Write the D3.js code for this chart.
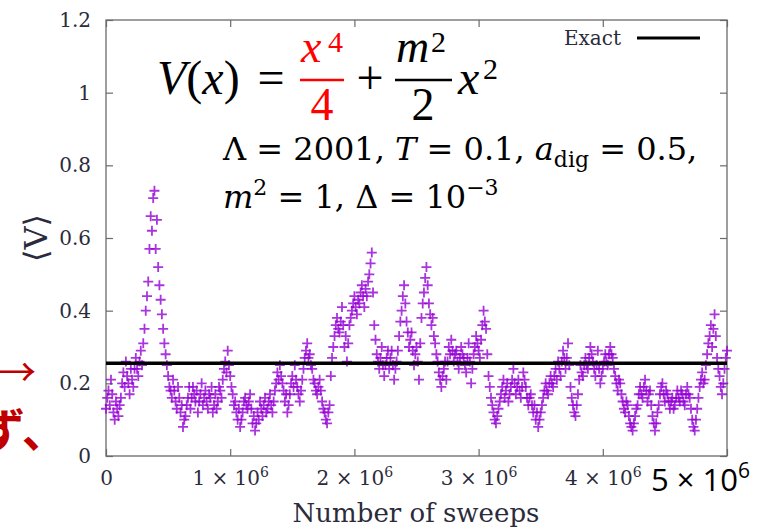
<!DOCTYPE html>
<meta charset="utf-8">
<script src="https://cdn.jsdelivr.net/npm/d3@7"></script>
<style>
  body { margin: 0; background: #fff; }
  svg { font-family: "DejaVu Serif", "Liberation Serif", serif; }
</style>
<div id="chart"></div>
<script>
const sweepStep = 10000;
const vValues = [
  0.13,0.16, 0.18,0.14, 0.21,0.17, 0.12,0.10, 0.15,0.13, 0.11,0.14, 0.16,0.20, 0.23,0.19, 0.26,0.22, 0.20,0.17,
  0.24,0.21, 0.19,0.24, 0.27,0.24, 0.22,0.26, 0.29,0.25, 0.31,0.35, 0.40,0.44, 0.48,0.57, 0.66,0.62, 0.71,0.73,
  0.57,0.65, 0.52,0.47, 0.43,0.39, 0.35,0.31, 0.28,0.25, 0.22,0.19, 0.18,0.16, 0.21,0.18, 0.15,0.13, 0.19,0.16,
  0.12,0.14, 0.08,0.10, 0.11,0.14, 0.16,0.19, 0.13,0.16, 0.19,0.17, 0.15,0.18, 0.12,0.15, 0.17,0.20, 0.14,0.16,
  0.18,0.15, 0.13,0.17, 0.16,0.19, 0.12,0.14, 0.17,0.13, 0.15,0.19, 0.18,0.16, 0.21,0.24, 0.26,0.23, 0.29,0.25,
  0.22,0.19, 0.17,0.14, 0.15,0.12, 0.10,0.13, 0.08,0.10, 0.12,0.15, 0.16,0.14, 0.13,0.15, 0.17,0.13, 0.09,0.11,
  0.07,0.09, 0.12,0.10, 0.15,0.13, 0.11,0.14, 0.16,0.12, 0.13,0.15, 0.17,0.14, 0.12,0.15, 0.18,0.20, 0.23,0.21,
  0.25,0.22, 0.20,0.18, 0.15,0.17, 0.12,0.14, 0.17,0.20, 0.22,0.19, 0.25,0.21, 0.19,0.17, 0.15,0.18, 0.21,0.24,
  0.27,0.29, 0.31,0.27, 0.28,0.25, 0.24,0.21, 0.20,0.18, 0.17,0.19, 0.21,0.18, 0.15,0.13, 0.12,0.10, 0.09,0.12,
  0.14,0.22, 0.27,0.30, 0.33,0.36, 0.38,0.35, 0.34,0.37, 0.41,0.36, 0.30,0.33, 0.26,0.31, 0.36,0.38, 0.40,0.42,
  0.44,0.41, 0.39,0.43, 0.42,0.45, 0.47,0.44, 0.41,0.46, 0.44,0.48, 0.50,0.53, 0.56,0.45, 0.36,0.32, 0.28,0.26,
  0.24,0.27, 0.30,0.25, 0.22,0.25, 0.27,0.29, 0.24,0.27, 0.29,0.25, 0.21,0.24, 0.26,0.29, 0.33,0.37, 0.40,0.44,
  0.47,0.42, 0.37,0.34, 0.30,0.32, 0.34,0.29, 0.25,0.28, 0.30,0.26, 0.21,0.31, 0.38,0.42, 0.45,0.49, 0.52,0.47,
  0.42,0.39, 0.36,0.38, 0.33,0.31, 0.28,0.26, 0.23,0.21, 0.19,0.22, 0.24,0.26, 0.21,0.26, 0.30,0.28, 0.32,0.29,
  0.26,0.28, 0.29,0.26, 0.24,0.27, 0.30,0.28, 0.27,0.25, 0.23,0.27, 0.31,0.26, 0.20,0.24, 0.28,0.30, 0.33,0.31,
  0.29,0.27, 0.32,0.36, 0.40,0.37, 0.35,0.28, 0.22,0.19, 0.16,0.14, 0.12,0.10, 0.09,0.11, 0.13,0.15, 0.17,0.19,
  0.21,0.16, 0.18,0.20, 0.15,0.17, 0.19,0.21, 0.24,0.20, 0.17,0.19, 0.21,0.18, 0.16,0.19, 0.23,0.21, 0.19,0.16,
  0.14,0.16, 0.17,0.14, 0.12,0.14, 0.10,0.12, 0.08,0.10, 0.12,0.14, 0.16,0.18, 0.20,0.18, 0.17,0.20, 0.22,0.20,
  0.19,0.22, 0.24,0.21, 0.26,0.24, 0.22,0.26, 0.29,0.27, 0.24,0.27, 0.31,0.25, 0.19,0.16, 0.14,0.12, 0.11,0.14,
  0.17,0.21, 0.25,0.23, 0.22,0.25, 0.27,0.25, 0.24,0.27, 0.30,0.28, 0.26,0.24, 0.22,0.25, 0.29,0.24, 0.20,0.22,
  0.24,0.26, 0.28,0.26, 0.25,0.28, 0.30,0.28, 0.27,0.24, 0.22,0.20, 0.18,0.21, 0.20,0.17, 0.15,0.13, 0.12,0.15,
  0.14,0.11, 0.09,0.08, 0.07,0.09, 0.11,0.13, 0.14,0.17, 0.19,0.17, 0.16,0.19, 0.21,0.18, 0.15,0.17, 0.18,0.14,
  0.11,0.09, 0.07,0.09, 0.12,0.14, 0.17,0.19, 0.20,0.17, 0.15,0.18, 0.17,0.15, 0.13,0.15, 0.16,0.13, 0.14,0.16,
  0.18,0.16, 0.15,0.18, 0.17,0.15, 0.14,0.17, 0.19,0.17, 0.16,0.13, 0.10,0.08, 0.07,0.10, 0.13,0.16, 0.19,0.21,
  0.23,0.20, 0.21,0.25, 0.28,0.31, 0.33,0.36, 0.30,0.35, 0.39,0.33, 0.27,0.24, 0.22,0.19, 0.17,0.20, 0.24,0.27,
  0.29
];
const exactValue = 0.255;

const xTicks = [0, 1e6, 2e6, 3e6, 4e6, 5e6];
const xTickLabels = ["0", "1 × 10^6", "2 × 10^6", "3 × 10^6", "4 × 10^6", ""];
const yTicks = [0, 0.2, 0.4, 0.6, 0.8, 1.0, 1.2];
const yTickLabels = ["0", "0.2", "0.4", "0.6", "0.8", "1", "1.2"];

const W = 761, H = 532;
const margin = {top: 20, right: 34, bottom: 76, left: 106},
  width = W - margin.left - margin.right,
  height = H - margin.top - margin.bottom;

const serif = "'DejaVu Serif', serif";
const timesLike = "'Liberation Serif', serif";

const svg = d3.select("#chart")
  .append("svg")
    .attr("width", W)
    .attr("height", H);

const g = svg.append("g")
  .attr("transform", `translate(${margin.left}, ${margin.top})`);

const x = d3.scaleLinear().domain([0, 5e6]).range([0, width]);
const y = d3.scaleLinear().domain([0, 1.2]).range([height, 0]);

// turn "a^b" into text + superscript tspan
function supLabel(sel, supSize, shift) {
  sel.each(function() {
    const t = d3.select(this);
    const parts = t.text().split("^");
    t.text(parts[0]);
    if (parts.length > 1) {
      t.append("tspan").attr("dy", -shift).style("font-size", supSize + "px").text(parts[1]);
    }
  });
}

// axes, ticks pointing inward like gnuplot
const axisColor = "#6b6b6b";
const labelColor = "#2b2b3b";
const xAxis = g.append("g")
  .attr("transform", `translate(0, ${height})`)
  .call(d3.axisBottom(x).tickValues(xTicks).tickSize(-7).tickPadding(15)
    .tickFormat((d, i) => xTickLabels[i]));
xAxis.selectAll("text")
  .style("font-family", serif).style("font-size", "20px").attr("fill", labelColor)
  .call(supLabel, 14, 8);

g.append("g")
  .call(d3.axisTop(x).tickValues(xTicks).tickSize(-7).tickFormat(""));

const yAxis = g.append("g")
  .call(d3.axisLeft(y).tickValues(yTicks).tickSize(-7).tickPadding(15)
    .tickFormat((d, i) => yTickLabels[i]));
yAxis.selectAll("text")
  .style("font-family", serif).style("font-size", "20px").attr("fill", labelColor);

g.append("g")
  .attr("transform", `translate(${width}, 0)`)
  .call(d3.axisRight(y).tickValues(yTicks).tickSize(-7).tickFormat(""));

g.selectAll(".domain").remove();
g.selectAll(".tick line").attr("stroke", axisColor).attr("stroke-width", 1.2);

g.append("rect")
  .attr("width", width).attr("height", height)
  .attr("fill", "none").attr("stroke", axisColor).attr("stroke-width", 1.3);

// data points as "+" markers
const points = vValues.map((v, i) => ({s: i * sweepStep, v: v}));
g.append("g").selectAll("path")
  .data(points)
  .join("path")
    .attr("d", d => `M${x(d.s) - 5},${y(d.v)}h10M${x(d.s)},${y(d.v) - 5}v10`)
    .attr("stroke", "#9400d3")
    .attr("stroke-width", 1.8)
    .attr("stroke-opacity", 0.8)
    .attr("fill", "none");

// exact value
g.append("line")
  .attr("x1", x(0)).attr("x2", x(5e6))
  .attr("y1", y(exactValue)).attr("y2", y(exactValue))
  .attr("stroke", "#000").attr("stroke-width", 3.5);

// legend
svg.append("text")
  .attr("x", 621).attr("y", 45)
  .attr("text-anchor", "end")
  .style("font-family", serif).style("font-size", "20px").attr("fill", labelColor)
  .text("Exact");
svg.append("line")
  .attr("x1", 637).attr("x2", 700).attr("y1", 38).attr("y2", 38)
  .attr("stroke", "#000").attr("stroke-width", 3);

// axis titles
svg.append("text")
  .attr("x", 416).attr("y", 522)
  .attr("text-anchor", "middle")
  .style("font-family", serif).style("font-size", "26px").attr("fill", labelColor)
  .text("Number of sweeps");
svg.append("text")
  .attr("transform", "translate(47, 238) rotate(-90)")
  .attr("text-anchor", "middle")
  .style("font-family", serif).style("font-size", "32px").attr("fill", labelColor)
  .text("⟨V⟩");

// big 5 x 10^6 label pasted over the last tick
svg.append("text")
  .attr("x", 651).attr("y", 491)
  .style("font-family", "'Open Sans', 'Noto Sans', sans-serif")
  .style("font-size", "31px").attr("fill", "#000")
  .text("5 × 10")
  .append("tspan").attr("dy", -13).style("font-size", "21px").text("6");

// formula V(x) = x^4/4 + m^2/2 x^2
const f = svg.append("g").attr("fill", "#000");
const red = "#ff0000";
const big = 48, mid = 46, sup = 30;

function ftext(px, py, size, str, opts) {
  opts = opts || {};
  return f.append("text")
    .attr("x", px).attr("y", py)
    .attr("text-anchor", opts.anchor || "start")
    .attr("fill", opts.color || "#000")
    .style("font-family", timesLike)
    .style("font-style", opts.italic ? "italic" : "normal")
    .style("font-size", size + "px")
    .text(str);
}

const v1 = ftext(157, 94, big, "");
v1.append("tspan").style("font-style", "italic").text("V");
v1.append("tspan").text("(");
v1.append("tspan").style("font-style", "italic").text("x");
v1.append("tspan").text(")");
ftext(271, 94, big, "=", {anchor: "middle"});

ftext(301, 62, mid, "x", {italic: true, color: red});
ftext(328, 52, sup, "4", {color: red});
f.append("line").attr("x1", 300).attr("x2", 344).attr("y1", 80).attr("y2", 80)
  .attr("stroke", red).attr("stroke-width", 2.5);
ftext(322, 120, mid, "4", {anchor: "middle", color: red});

ftext(370, 94, big, "+", {anchor: "middle"});

ftext(396, 62, mid, "m", {italic: true});
ftext(431, 52, sup, "2");
f.append("line").attr("x1", 395).attr("x2", 452).attr("y1", 80).attr("y2", 80)
  .attr("stroke", "#000").attr("stroke-width", 2.5);
ftext(423, 120, mid, "2", {anchor: "middle"});

ftext(458, 94, big, "x", {italic: true});
ftext(483, 79, sup, "2");

// parameter lines
const p1 = svg.append("text").attr("x", 223).attr("y", 160)
  .style("font-family", serif).style("font-size", "32px").attr("fill", "#000");
p1.append("tspan").text("Λ = 2001, ");
p1.append("tspan").style("font-style", "italic").text("T");
p1.append("tspan").text(" = 0.1, ");
p1.append("tspan").style("font-style", "italic").text("a");
p1.append("tspan").attr("dy", 7).style("font-size", "22px").text("dig");
p1.append("tspan").attr("dy", -7).text(" = 0.5,");

const p2 = svg.append("text").attr("x", 223).attr("y", 208)
  .style("font-family", serif).style("font-size", "32px").attr("fill", "#000");
p2.append("tspan").style("font-style", "italic").text("m");
p2.append("tspan").attr("dy", -13).style("font-size", "22px").text("2");
p2.append("tspan").attr("dy", 13).text(" = 1, Δ = 10");
p2.append("tspan").attr("dy", -13).style("font-size", "22px").text("−3");

// slide text cut off at the left edge
svg.append("text")
  .attr("x", -2).attr("y", 386)
  .style("font-family", "'Noto Sans CJK JP', sans-serif")
  .style("font-size", "38px").attr("fill", "#c00000")
  .text("→");
svg.append("text")
  .attr("x", -21).attr("y", 447)
  .style("font-family", "'Noto Sans CJK JP', sans-serif")
  .style("font-weight", "bold")
  .style("font-size", "46px").attr("fill", "#c00000")
  .text("ず、");
</script>
